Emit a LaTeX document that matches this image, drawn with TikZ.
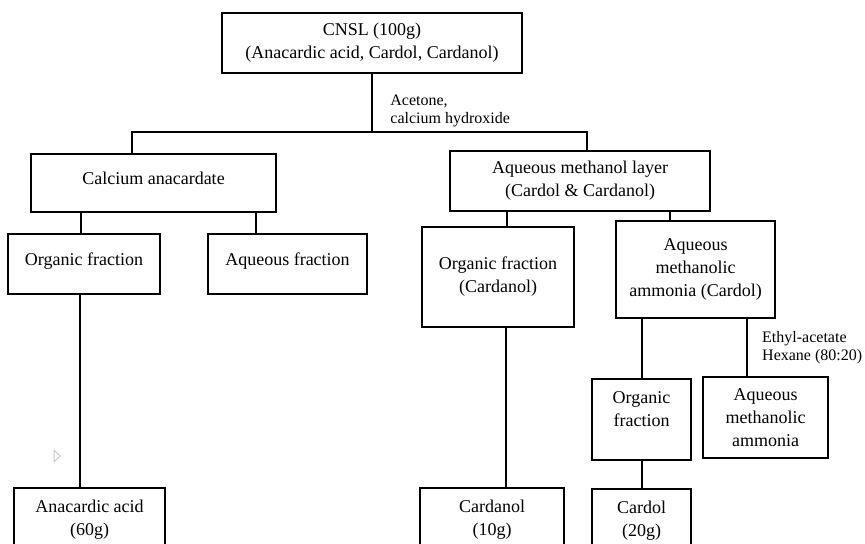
\documentclass[tikz,border=0pt]{standalone}
\usepackage{fontspec}
\setmainfont{Liberation Serif}
\usetikzlibrary{positioning}
\tikzset{
  stagebox/.style={draw,line width=1pt,align=center,inner sep=2pt,font=\fontsize{9}{11.5}\selectfont},
  linkline/.style={line width=1.2pt},
  steplabel/.style={align=left,inner sep=0pt,font=\fontsize{8}{9}\selectfont}
}
\begin{document}
\begin{tikzpicture}[x=0.5pt,y=-0.5pt]
\useasboundingbox (0,0) rectangle (865,543);
\clip (0,0) rectangle (865,543);
\node[stagebox,minimum width=150pt,minimum height=30pt] (cnsl) at (372,43) {CNSL (100g)\\(Anacardic acid, Cardol, Cardanol)};
\node[stagebox,minimum width=122.5pt,minimum height=29pt,text depth=5pt] (calc) at (153.5,183) {Calcium anacardate};
\node[stagebox,minimum width=130pt,minimum height=30pt] (meth) at (580,181) {Aqueous methanol layer\\(Cardol \& Cardanol)};
\node[stagebox,minimum width=76pt,minimum height=30pt,text depth=5pt] (orgA) at (84,264) {Organic fraction};
\node[stagebox,minimum width=79.5pt,minimum height=30pt,text depth=5pt] (aqA) at (287.5,264) {Aqueous fraction};
\node[stagebox,minimum width=75.5pt,minimum height=32pt] (anac) at (89.5,520) {Anacardic acid\\(60g)};
\node[stagebox,minimum width=76pt,minimum height=50pt] (orgB) at (498,277) {Organic fraction\\(Cardanol)};
\node[stagebox,minimum width=79.5pt,minimum height=48.5pt] (ammB) at (695.5,269.5) {Aqueous\\methanolic\\ammonia (Cardol)};
\node[stagebox,minimum width=72pt,minimum height=32pt] (cardanol) at (492,520) {Cardanol\\(10g)};
\node[stagebox,minimum width=49.5pt,minimum height=40.5pt,text depth=10pt] (orgC) at (641.5,419.5) {Organic\\fraction};
\node[stagebox,minimum width=49.5pt,minimum height=32pt] (cardol) at (641.5,520.5) {Cardol\\(20g)};
\node[stagebox,minimum width=62.5pt,minimum height=40.5pt] (ammC) at (765.5,417.5) {Aqueous\\methanolic\\ammonia};

\coordinate (split) at (372,132);
\coordinate (splitL) at (132,132);
\coordinate (splitR) at (587,132);
\coordinate (dropA) at (81,0);
\coordinate (dropB) at (256,0);
\coordinate (dropC) at (80,0);
\coordinate (dropD) at (507,0);
\coordinate (dropE) at (670,0);
\coordinate (dropF) at (506,0);
\coordinate (dropG) at (642,0);
\coordinate (dropH) at (747,0);

\draw[linkline] (cnsl) -- (split);
\draw[linkline] (calc.north -| splitL) -- (splitL) -- (splitR) -- (meth.north -| splitR);
\node[steplabel,anchor=west] (acetone) at (390,111) {Acetone,\\calcium hydroxide};
\draw[linkline] (calc.south -| dropA) -- (orgA.north -| dropA);
\draw[linkline] (calc.south -| dropB) -- (aqA.north -| dropB);
\draw[linkline] (orgA.south -| dropC) -- (anac.north -| dropC);
\draw[linkline] (meth.south -| dropD) -- (orgB.north -| dropD);
\draw[linkline] (meth.south -| dropE) -- (ammB.north -| dropE);
\draw[linkline] (orgB.south -| dropF) -- (cardanol.north -| dropF);
\draw[linkline] (ammB.south -| dropG) -- (orgC.north -| dropG);
\draw[linkline] (orgC.south -| dropG) -- (cardol.north -| dropG);
\draw[linkline] (ammB.south -| dropH) -- node[steplabel,right=7pt] (solvent) {Ethyl-acetate\\Hexane (80:20)} (ammC.north -| dropH);

\draw[gray!45,line width=0.5pt] (54,450) -- (60,456) -- (54,462) -- cycle;
\end{tikzpicture}
\end{document}
